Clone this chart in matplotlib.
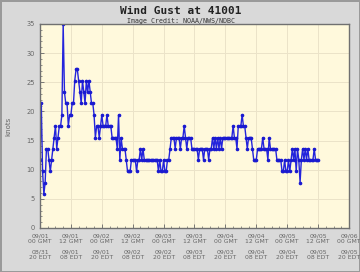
import numpy as np
import matplotlib
matplotlib.use("Agg")
import matplotlib.pyplot as plt
from matplotlib.ticker import MultipleLocator

# gust values (knots), one reading every half hour from 09/01 00 GMT
gust = [
    11.7, 21.4, 9.7, 5.8, 7.8, 13.6, 13.6, 11.7, 9.7, 11.7, 13.6, 15.5,
    17.5, 13.6, 15.5, 17.5, 17.5, 19.4, 35.0, 23.3, 21.4, 21.4, 17.5, 19.4,
    19.4, 21.4, 21.4, 25.3, 27.2, 27.2, 25.3, 23.3, 21.4, 25.3, 23.3, 21.4,
    25.3, 23.3, 25.3, 23.3, 21.4, 21.4, 19.4, 15.5, 17.5, 17.5, 15.5, 17.5,
    19.4, 17.5, 17.5, 17.5, 19.4, 17.5, 17.5, 17.5, 15.5, 15.5, 15.5, 15.5,
    13.6, 19.4, 11.7, 15.5, 13.6, 13.6, 13.6, 11.7, 9.7, 9.7, 9.7, 11.7,
    11.7, 11.7, 11.7, 9.7, 11.7, 11.7, 13.6, 11.7, 13.6, 11.7, 11.7, 11.7,
    11.7, 11.7, 11.7, 11.7, 11.7, 11.7, 11.7, 11.7, 9.7, 11.7, 9.7, 9.7,
    11.7, 9.7, 9.7, 11.7, 11.7, 13.6, 15.5, 15.5, 15.5, 13.6, 15.5, 15.5,
    15.5, 13.6, 15.5, 15.5, 17.5, 15.5, 13.6, 15.5, 15.5, 15.5, 13.6, 13.6,
    13.6, 13.6, 13.6, 11.7, 13.6, 13.6, 13.6, 11.7, 13.6, 13.6, 13.6, 11.7,
    13.6, 13.6, 15.5, 13.6, 15.5, 13.6, 15.5, 13.6, 15.5, 13.6, 15.5, 15.5,
    15.5, 15.5, 15.5, 15.5, 15.5, 15.5, 17.5, 15.5, 15.5, 13.6, 17.5, 17.5,
    17.5, 19.4, 17.5, 17.5, 15.5, 13.6, 15.5, 15.5, 15.5, 13.6, 11.7, 11.7,
    11.7, 13.6, 13.6, 13.6, 13.6, 15.5, 13.6, 13.6, 13.6, 11.7, 15.5, 13.6,
    13.6, 13.6, 13.6, 13.6, 11.7, 11.7, 11.7, 11.7, 9.7, 9.7, 11.7, 9.7,
    9.7, 11.7, 9.7, 11.7, 13.6, 11.7, 13.6, 9.7, 13.6, 11.7, 7.8, 11.7,
    13.6, 11.7, 13.6, 11.7, 13.6, 11.7, 11.7, 11.7, 11.7, 13.6, 11.7, 11.7,
    11.7,
]
hours = np.arange(len(gust)) * 0.5

tick_hours = [0, 12, 24, 36, 48, 60, 72, 84, 96, 108, 120]
gmt_labels = ["09/01\n00 GMT", "09/01\n12 GMT", "09/02\n00 GMT", "09/02\n12 GMT",
              "09/03\n00 GMT", "09/03\n12 GMT", "09/04\n00 GMT", "09/04\n12 GMT",
              "09/05\n00 GMT", "09/05\n12 GMT", "09/06\n00 GMT"]
edt_labels = ["08/31\n20 EDT", "09/01\n08 EDT", "09/01\n20 EDT", "09/02\n08 EDT",
              "09/02\n20 EDT", "09/03\n08 EDT", "09/03\n20 EDT", "09/04\n08 EDT",
              "09/04\n20 EDT", "09/05\n08 EDT", "09/05\n20 EDT"]

fig = plt.figure(figsize=(3.6, 2.72), dpi=100, facecolor="#d9d9d9",
                 edgecolor="#9a9a9a", linewidth=1)
ax = fig.add_axes([40/360, 1-228/272, 309/360, 204/272])
ax.set_facecolor("#fff9dc")

ax.plot(hours, gust, color="#2424dc", lw=1.0, marker="o", ms=1.6,
        mec="#1a1ad0", mfc="#1a1ad0")

ax.set_xlim(0, 120)
ax.set_ylim(0, 35)
ax.yaxis.set_major_locator(MultipleLocator(5))
ax.yaxis.set_minor_locator(MultipleLocator(1))
ax.set_xticks(tick_hours)
ax.set_xticklabels([g + "\n\n" + e for g, e in zip(gmt_labels, edt_labels)],
                   linespacing=1.1)
ax.xaxis.set_minor_locator(MultipleLocator(3))
ax.grid(True, which="major", color="#ebe3c8", lw=0.7)
ax.set_axisbelow(True)

ax.tick_params(which="both", direction="in", colors="#666666", labelsize=4.8,
               labelcolor="#666666")
ax.tick_params(axis="x", labelsize=4.4, pad=4)
ax.tick_params(which="major", length=3, width=0.6)
ax.tick_params(which="minor", length=1.5, width=0.5)
for sp in ax.spines.values():
    sp.set_color("#707070")
    sp.set_linewidth(1.0)

ax.set_ylabel("knots", fontsize=5, color="#666666", labelpad=11)
fig.text(0.503, 0.978, "Wind Gust at 41001", ha="center", va="top",
         fontsize=8, fontweight="bold", family="DejaVu Sans Mono", color="#222222")
fig.text(0.503, 0.935, "Image Credit: NOAA/NWS/NDBC", ha="center", va="top",
         fontsize=4.8, family="DejaVu Sans Mono", color="#333333")

fig.savefig("out.png", dpi=100, facecolor=fig.get_facecolor(),
            edgecolor=fig.get_edgecolor())
